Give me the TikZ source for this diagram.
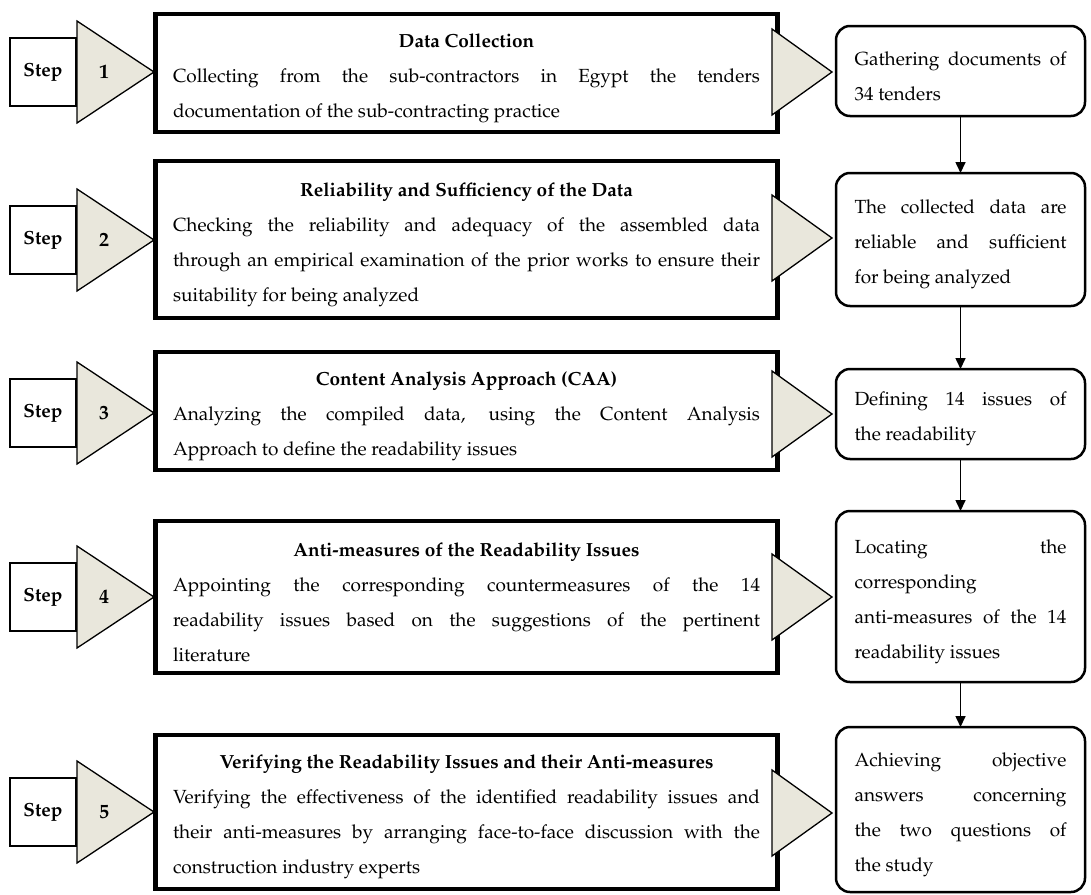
\documentclass[tikz,border=0pt]{standalone}
\usepackage[T1]{fontenc}
\renewcommand{\rmdefault}{ppl}
\usetikzlibrary{arrows.meta}
\definecolor{tribeige}{RGB}{233,231,220}
\tikzset{
  every node/.style={inner sep=0pt, outer sep=0pt},
  para/.style={align=justify, execute at begin node={\tolerance=10000\hbadness=10000\hyphenpenalty=10000\exhyphenpenalty=10000\emergencystretch=3em\leavevmode\rule{0pt}{24pt}}},
  mainbox/.style={draw, line width=4.5pt, minimum width=622pt, text width=587pt, para,
    font=\fontsize{19}{35}\selectfont},
  resultbox/.style={draw, line width=2.5pt, rounded corners=14pt, minimum width=249pt, text width=212pt, para,
    font=\fontsize{19}{35}\selectfont},
  steplabel/.style={draw, line width=1.3pt, minimum width=66pt, minimum height=68pt,
    font=\bfseries\fontsize{19}{22}\selectfont},
  pointer/.style={draw, line width=1.3pt, fill=tribeige, line join=miter},
  stepnum/.style={font=\bfseries\fontsize{20}{22}\selectfont},
  flow/.style={line width=1.6pt, -{Triangle[length=11pt,width=10pt]}}
}
\begin{document}
\begin{tikzpicture}[x=1pt, y=-1pt]
\fill[white] (0,0) rectangle (1091,894);
\useasboundingbox (0,0) rectangle (1091,894);

% step labels on the left
\node[steplabel] (s1) at (43,72) {Step};
\node[steplabel] (s2) at (43,240) {Step};
\node[steplabel] (s3) at (43,413) {Step};
\node[steplabel] (s4) at (43,597) {Step};
\node[steplabel] (s5) at (43,812) {Step};

% main process boxes
\node[mainbox, minimum height=118pt] (m1) at (466.5,73) {%
  {\centering\bfseries Data Collection\par}
  Collecting from the sub-contractors in Egypt the tenders\linebreak
  documentation of the sub-contracting practice};
\node[mainbox, minimum height=157pt] (m2) at (466.5,239.5) {%
  {\centering\bfseries Reliability and Sufficiency of the Data\par}
  Checking the reliability and adequacy of the assembled data\linebreak
  through an empirical examination of the prior works to ensure their\linebreak
  suitability for being analyzed};
\node[mainbox, minimum height=118pt] (m3) at (466.5,411) {%
  {\centering\bfseries Content Analysis Approach (CAA)\par}
  Analyzing the compiled data, using the Content Analysis\linebreak
  Approach to define the readability issues};
\node[mainbox, minimum height=152pt] (m4) at (466.5,597) {%
  {\centering\bfseries Anti-measures of the Readability Issues\par}
  Appointing the corresponding countermeasures of the 14\linebreak
  readability issues based on the suggestions of the pertinent\linebreak
  literature};
\node[mainbox, minimum height=154pt] (m5) at (466.5,812) {%
  {\centering\bfseries Verifying the Readability Issues and their Anti-measures\par}
  Verifying the effectiveness of the identified readability issues and\linebreak
  their anti-measures by arranging face-to-face discussion with the\linebreak
  construction industry experts};

% outcome boxes on the right
\node[resultbox, minimum height=90pt] (r1) at (960.5,71) {%
  Gathering documents of\linebreak 34 tenders};
\node[resultbox, minimum height=133pt] (r2) at (960.5,239.5) {%
  The collected data are\linebreak reliable and sufficient\linebreak for being analyzed};
\node[resultbox, minimum height=90pt] (r3) at (960.5,414) {%
  Defining 14 issues of\linebreak the readability};
\node[resultbox, minimum height=171pt] (r4) at (960.5,596.5) {%
  Locating the\linebreak corresponding\linebreak anti-measures of the 14\linebreak readability issues};
\node[resultbox, minimum height=165pt] (r5) at (960.5,809.5) {%
  Achieving objective\linebreak answers concerning\linebreak the two questions of\linebreak the study};

% pointers: step number triangles and box-to-outcome triangles
\foreach \t/\n in {72/1, 240/2, 413/3, 597/4, 812/5} {
  \draw[pointer] (77,\t-51) -- (154,\t) -- (77,\t+51) -- cycle;
  \node[stepnum] (n\n) at (104,\t) {\n};
}
\foreach \t in {72, 238, 414, 597, 813} {
  \draw[pointer] (772,\t-43) -- (832,\t) -- (772,\t+43) -- cycle;
}

% flow between outcomes
\draw[flow] (r1) -- (r2);
\draw[flow] (r2) -- (r3);
\draw[flow] (r3) -- (r4);
\draw[flow] (r4) -- (r5);
\end{tikzpicture}
\end{document}
